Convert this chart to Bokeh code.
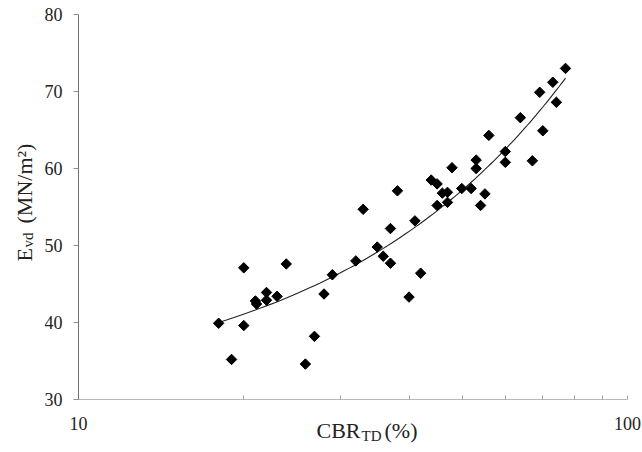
import numpy as np
from bokeh.plotting import figure
from bokeh.models import Label, FixedTicker
from bokeh.embed import file_html
from bokeh.resources import INLINE

# Data (CBR_TD %, Evd MN/m2)
cbr = [18.0, 19.0, 20.0, 20.0, 21.0, 21.1, 22.0, 22.0, 23.0, 23.9,
       25.9, 26.9, 28.0, 29.0, 32.0, 33.0, 35.0, 35.9, 37.0, 37.0,
       38.1, 40.0, 41.0, 42.0, 43.9, 45.0, 45.0, 46.0, 47.0, 47.0,
       47.9, 49.9, 51.9, 53.0, 53.0, 54.0, 55.0, 55.9, 59.9, 59.9,
       63.8, 67.1, 69.2, 70.1, 73.1, 74.2, 77.1]
evd = [39.9, 35.2, 47.1, 39.6, 42.8, 42.4, 43.9, 42.9, 43.4, 47.6,
       34.6, 38.2, 43.7, 46.2, 48.0, 54.7, 49.8, 48.6, 47.7, 52.2,
       57.1, 43.3, 53.2, 46.4, 58.5, 58.0, 55.2, 56.8, 56.9, 55.6,
       60.1, 57.4, 57.4, 61.1, 60.0, 55.2, 56.7, 64.3, 62.2, 60.8,
       66.6, 61.0, 69.9, 64.9, 71.2, 68.6, 73.0]
x_major_ticks = [10, 100]
x_major_labels = ["10", "100"]
x_minor_ticks = [20, 30, 40, 50, 60, 70, 80, 90]
y_ticks = [30, 40, 50, 60, 70, 80]
x_axis_span = (10, 100)
y_axis_span = (30, 80)

SERIF = "Liberation Serif"

# page geometry (pixels) of the axis box
W, H = 642, 452
AX_L, AX_R, AX_T, AX_B = 78, 627, 14, 399

# extend the ranges so that the axis box sits at the right place while the
# plotting frame covers the whole canvas (so labels outside the box are not clipped)
lx0, lx1 = np.log10(x_axis_span[0]), np.log10(x_axis_span[1])
dpx = (lx1 - lx0) / (AX_R - AX_L)
x_start = 10 ** (lx0 - AX_L * dpx)
x_end = 10 ** (lx1 + (W - AX_R) * dpx)
dpy = (y_axis_span[1] - y_axis_span[0]) / (AX_B - AX_T)
y_start = y_axis_span[0] - (H - AX_B) * dpy
y_end = y_axis_span[1] + AX_T * dpy

p = figure(width=W, height=H, x_axis_type="log",
           x_range=(x_start, x_end), y_range=(y_start, y_end),
           output_backend="svg", toolbar_location=None, min_border=0)
p.outline_line_color = None
p.xgrid.visible = False
p.ygrid.visible = False

# trend line (least squares, linear in x)
slope, intercept = np.polyfit(cbr, evd, 1)
xt = np.linspace(min(cbr), max(cbr), 100)
p.line(xt, intercept + slope * xt, line_color="#222222", line_width=1.1)

p.scatter(cbr, evd, marker="square", size=7.4, angle=np.pi / 4,
          fill_color="black", line_color="black")

# axes
xa = p.xaxis[0]
xa.fixed_location = y_axis_span[0]
xa.bounds = x_axis_span
xa.ticker = FixedTicker(ticks=x_major_ticks, minor_ticks=x_minor_ticks)
xa.major_label_overrides = {t: s for t, s in zip(x_major_ticks, x_major_labels)}
xa.axis_line_color = "#b8b8b8"
xa.major_tick_line_color = "#a0a0a0"
xa.minor_tick_line_color = "#a0a0a0"
xa.major_tick_in = 4
xa.major_tick_out = 0
xa.minor_tick_in = 4
xa.minor_tick_out = 0
xa.major_label_text_font = SERIF
xa.major_label_text_font_size = "18px"
xa.major_label_text_color = "#222222"
xa.major_label_standoff = 17

ya = p.yaxis[0]
ya.fixed_location = x_axis_span[0]
ya.bounds = y_axis_span
ya.ticker = FixedTicker(ticks=y_ticks)
ya.axis_line_color = "#707070"
ya.major_tick_line_color = "#909090"
ya.major_tick_in = 0
ya.major_tick_out = 5
ya.minor_tick_line_color = None
ya.major_label_text_font = SERIF
ya.major_label_text_font_size = "18px"
ya.major_label_text_color = "#222222"
ya.major_label_standoff = 11

def lab(text, x, y, size, angle=0.0):
    # x, y given in page pixels from the top-left (frame == canvas)
    p.add_layout(Label(x=x, y=H - y, x_units="screen", y_units="screen",
                       text=text, text_font=SERIF, text_font_size=size,
                       text_color="#222222", angle=angle,
                       text_align="left", text_baseline="alphabetic"))

# x axis label: CBR_TD (%)
lab("CBR", 316, 430, "22px")
lab("TD", 361, 435, "15px")
lab("(%)", 384, 430, "22px")

# y axis label: E_vd (MN/m²)
lab("E", 24, 261, "22px", np.pi / 2)
lab("vd", 27, 247, "15px", np.pi / 2)
lab("(MN/m²)", 24, 223, "22px", np.pi / 2)

open("out.html", "w").write(file_html(p, INLINE))
